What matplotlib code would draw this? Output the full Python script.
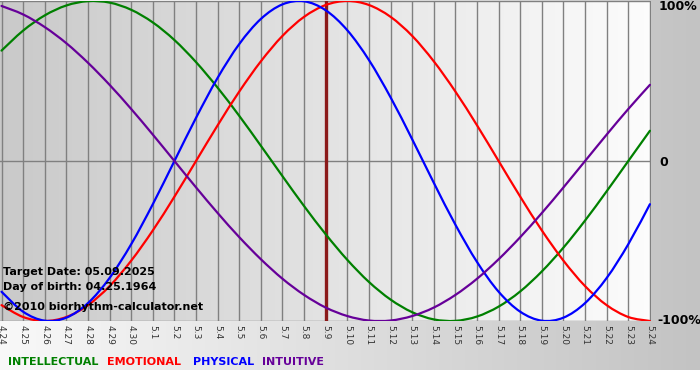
import numpy as np
import matplotlib
matplotlib.use("Agg")
import matplotlib.pyplot as plt
from matplotlib.path import Path
from matplotlib.patches import PathPatch

# ---- data ----
dates = ["4.24", "4.25", "4.26", "4.27", "4.28", "4.29", "4.30",
         "5.1", "5.2", "5.3", "5.4", "5.5", "5.6", "5.7", "5.8", "5.9",
         "5.10", "5.11", "5.12", "5.13", "5.14", "5.15", "5.16", "5.17",
         "5.18", "5.19", "5.20", "5.21", "5.22", "5.23", "5.24"]

intellectual = [0.690, 0.815, 0.910, 0.972, 0.999, 0.990, 0.945, 0.866, 0.756, 0.618,
                0.458, 0.282, 0.095, -0.095, -0.282, -0.458, -0.618, -0.756, -0.866,
                -0.945, -0.990, -0.999, -0.972, -0.910, -0.815, -0.690, -0.541, -0.372,
                -0.189, 0.000, 0.189]
emotional = [-0.901, -0.975, -1.000, -0.975, -0.901, -0.782, -0.623, -0.434, -0.223,
             0.000, 0.223, 0.434, 0.623, 0.782, 0.901, 0.975, 1.000, 0.975, 0.901,
             0.782, 0.623, 0.434, 0.223, 0.000, -0.223, -0.434, -0.623, -0.782,
             -0.901, -0.975, -1.000]
physical = [-0.817, -0.942, -0.998, -0.979, -0.888, -0.731, -0.520, -0.270, 0.000,
            0.270, 0.520, 0.731, 0.888, 0.979, 0.998, 0.942, 0.817, 0.631, 0.398,
            0.136, -0.136, -0.398, -0.631, -0.817, -0.942, -0.998, -0.979, -0.888,
            -0.731, -0.520, -0.270]
intuitive = [0.969, 0.916, 0.837, 0.736, 0.614, 0.476, 0.325, 0.165, 0.000, -0.165,
             -0.325, -0.476, -0.614, -0.736, -0.837, -0.916, -0.969, -0.997, -0.997,
             -0.969, -0.916, -0.837, -0.736, -0.614, -0.476, -0.325, -0.165, 0.000,
             0.165, 0.325, 0.476]

target_index = 15  # 5.9
series_names = ["INTELLECTUAL", "EMOTIONAL", "PHYSICAL", "INTUITIVE"]
series_colors = ["#008000", "#ff0000", "#0000ff", "#660099"]
right_labels = ["100%", "0", "-100%"]
info_lines = ["Target Date: 05.09.2025", "Day of birth: 04.25.1964",
              "\u00a92010 biorhythm-calculator.net"]


def smooth_path(xs, ys):
    """Smooth line through the data points (Catmull-Rom drawn as cubic Beziers)."""
    p = np.column_stack([xs, ys]).astype(float)
    n = len(p)
    verts = [p[0]]
    codes = [Path.MOVETO]
    for i in range(n - 1):
        p0 = p[i - 1] if i > 0 else p[i]
        p1, p2 = p[i], p[i + 1]
        p3 = p[i + 2] if i + 2 < n else p[i + 1]
        c1 = p1 + (p2 - p0) / 6.0
        c2 = p2 - (p3 - p1) / 6.0
        verts += [c1, c2, p2]
        codes += [Path.CURVE4] * 3
    return Path(verts, codes)


W, H = 700, 380
fig = plt.figure(figsize=(7, 3.8), dpi=100)

# figure background gradient (light left -> gray right), white strip at bottom
bg = fig.add_axes([0, 0, 1, 1], zorder=-10)
grad = np.linspace(0.975, 0.765, 256)[None, :]
bg.imshow(np.dstack([grad, grad, grad]), extent=[0, W, 10, H], aspect="auto",
          origin="lower")
bg.set_xlim(0, W)
bg.set_ylim(0, H)
bg.axis("off")

ax = fig.add_axes([0, (H - 321) / H, 651 / W, 320 / H])
x = np.arange(len(dates))
ax.set_xlim(-0.07, 30.05)
ax.set_ylim(-1.0, 1.0)

# plot-area gradient (gray left -> white right)
pg = np.linspace(0.79, 0.99, 256)[None, :]
ax.imshow(np.dstack([pg, pg, pg]), extent=[-0.07, 30.05, -1.0, 1.0],
          aspect="auto", zorder=0)

for xi in x:
    ax.axvline(xi, color="#808080", lw=1.0, zorder=1)
for yv in (-1.0, 0.0, 1.0):
    ax.axhline(yv, color="#808080", lw=1.0, zorder=1)

ax.axvline(target_index, color="#8b1a1a", lw=2.4, zorder=2)

for vals, col in zip([intellectual, emotional, physical, intuitive], series_colors):
    patch = PathPatch(smooth_path(x, vals), facecolor="none", edgecolor=col,
                      lw=1.6, zorder=3, capstyle="round", joinstyle="round")
    ax.add_patch(patch)

for s in ax.spines.values():
    s.set_visible(False)
ax.set_yticks([])
ax.set_xticks(x)
ax.set_xticklabels(dates, rotation=-90, fontsize=6.5, color="#333333")
ax.tick_params(axis="x", length=0, pad=3)

# info text inside plot
ys = [272, 287, 307]
for t, yy in zip(info_lines, ys):
    fig.text(3 / W, 1 - yy / H, t, fontsize=8, fontweight="bold", color="black",
             va="center", ha="left", zorder=5)

# right labels
for lab, xx, yy in zip(right_labels, [659, 659, 657], [7, 162, 321]):
    fig.text(xx / W, 1 - yy / H, lab, fontsize=9, fontweight="bold",
             color="black", va="center", ha="left")

# legend text
for name, col, xx in zip(series_names, series_colors, [8, 107, 193, 262]):
    fig.text(xx / W, 1 - 362 / H, name, fontsize=8, fontweight="bold",
             color=col, va="center", ha="left")

fig.savefig("out.png", dpi=100)
